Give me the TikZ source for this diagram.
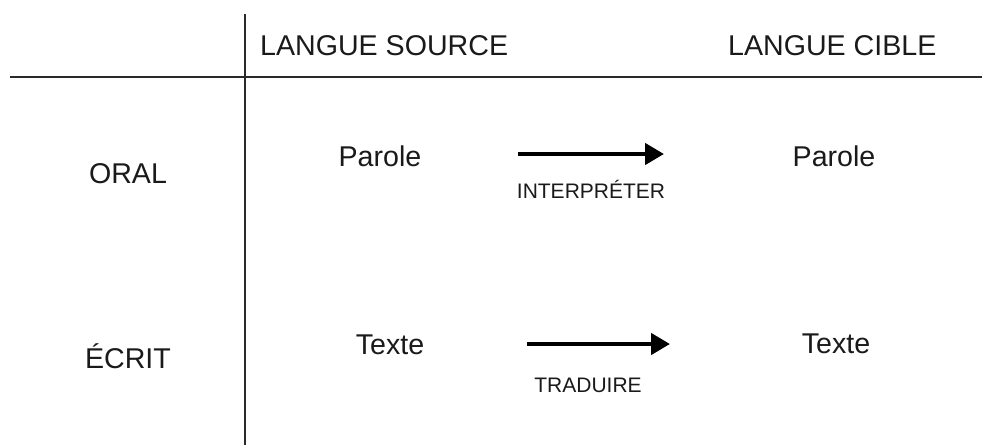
\documentclass[tikz,border=0pt]{standalone}
\usepackage{fontspec}
\setmainfont{Liberation Sans}
\usetikzlibrary{arrows.meta}
\definecolor{ink}{HTML}{1A1A1A}
\definecolor{rule}{HTML}{2A2A2A}
\tikzset{
  big/.style={inner sep=0pt, text=ink, font=\fontsize{28.6}{32}\selectfont},
  small/.style={inner sep=0pt, text=ink, font=\fontsize{21}{24}\selectfont},
  gridline/.style={draw=rule, line width=2.6pt},
  arr/.style={draw=black, line width=4.5pt, -{Triangle[length=19pt,width=21pt]}}
}
\begin{document}
\begin{tikzpicture}[x=1pt,y=-1pt]
\useasboundingbox[fill=white] (0,0) rectangle (982,445);
% grid
\coordinate (hl) at (10,77);
\coordinate (hr) at (982,77);
\coordinate (vt) at (245,14);
\coordinate (vb) at (245,445);
\draw[gridline] (hl) -- (hr);
\draw[gridline] (vt) -- (vb);
% headers
\node[big, anchor=base west] (src) at (260,55) {LANGUE SOURCE};
\node[big, anchor=base west] (cib) at (728,55) {LANGUE CIBLE};
\node[big, anchor=base] (oral) at (128,183) {ORAL};
\node[big, anchor=base] (ecrit) at (128,368) {ÉCRIT};
% cells
\node[big, anchor=base] (p1) at (380,166) {Parole};
\node[big, anchor=base] (p2) at (834,166) {Parole};
\node[big, anchor=base] (t1) at (390,354) {Texte};
\node[big, anchor=base] (t2) at (836,353) {Texte};
% arrows
\coordinate (a1s) at (518,154);
\coordinate (a1e) at (664,154);
\coordinate (a2s) at (527,344);
\coordinate (a2e) at (670,344);
\draw[arr] (a1s) -- (a1e);
\draw[arr] (a2s) -- (a2e);
\node[small, anchor=base] (interp) at (591,198) {INTERPRÉTER};
\node[small, anchor=base] (trad) at (588,392) {TRADUIRE};
\end{tikzpicture}
\end{document}
